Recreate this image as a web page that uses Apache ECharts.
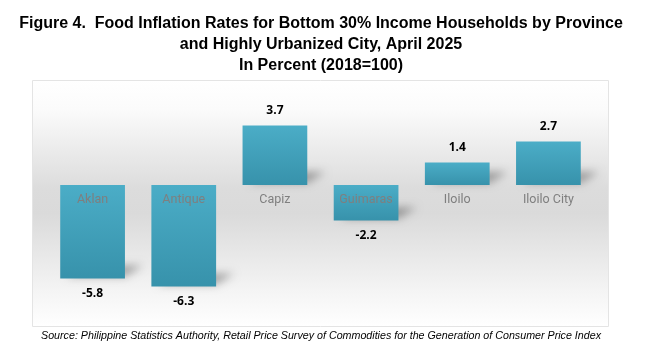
<!DOCTYPE html>
<html>
<head>
<meta charset="utf-8">
<script src="https://cdn.jsdelivr.net/npm/echarts@6/dist/echarts.min.js"></script>
<style>
html, body { margin: 0; padding: 0; background: #fff; }
#chart { width: 664px; height: 353px; }
</style>
</head>
<body>
<div id="chart"></div>
<script>
	var categories = ['Aklan', 'Antique', 'Capiz', 'Guimaras', 'Iloilo', 'Iloilo City'];
	var rates = [-5.8, -6.3, 3.7, -2.2, 1.4, 2.7];

	var titleLines = [
		'Figure 4.  Food Inflation Rates for Bottom 30% Income Households by Province',
		'and Highly Urbanized City, April 2025',
		'In Percent (2018=100)'
	];
	var sourceText = 'Source: Philippine Statistics Authority, Retail Price Survey of Commodities for the Generation of Consumer Price Index';

	var titleFont = '"Liberation Sans", Arial, sans-serif';

	// value range of the hidden y axis, zero sits at 6/14 of the grid height
	var yMin = -8, yMax = 6;
	var gridTop = 88.4, gridBottom = 39.2, chartH = 353;
	var gridH = chartH - gridTop - gridBottom;
	var zeroOffset = -gridH * (-yMin) / (yMax - yMin);
	var barRatio = 0.71;

	// perspective shadow behind each bar, cast up and to the right.
	// the shape itself is drawn off canvas, only its blurred shadow shows
	var far = 2000;
	function renderShadow(params, api) {
		var idx = api.value(0);
		var v = api.value(1);
		var base = api.coord([idx, Math.min(v, 0)]);
		var w = api.size([1, 0])[0] * barRatio;
		var xl = base[0] - w / 2 - far, xr = base[0] + w / 2 - far, yb = base[1];
		return {
			type: 'polygon',
			shape: { points: [[xl + 6, yb - 2], [xr, yb - 2], [xr + 18, yb - 13], [xl + 24, yb - 13]] },
			style: {
				fill: '#000',
				shadowBlur: 9,
				shadowOffsetX: far,
				shadowColor: 'rgba(0,0,0,0.32)'
			}
		};
	}

	var option = {
		animation: false,
		graphic: [
			{
				type: 'rect',
				z: -10,
				shape: { x: 32.5, y: 80.5, width: 576, height: 246 },
				style: {
					stroke: '#e4e4e4',
					lineWidth: 1,
					fill: {
						type: 'linear', x: 0, y: 0, x2: 0, y2: 1,
						colorStops: [
							{ offset: 0, color: '#ffffff' },
							{ offset: 0.12, color: '#fbfbfb' },
							{ offset: 0.44, color: '#dcdcdc' },
							{ offset: 0.54, color: '#dadada' },
							{ offset: 0.85, color: '#f4f4f4' },
							{ offset: 1, color: '#ffffff' }
						]
					}
				}
			},
			{
				type: 'text', x: 321, y: 13,
				style: {
					text: titleLines.join('\n'),
					font: 'bold 16px ' + titleFont,
					lineHeight: 21,
					textAlign: 'center',
					fill: '#000'
				}
			},
			{
				type: 'text', x: 321, y: 331,
				style: {
					text: sourceText,
					font: 'italic 10.7px ' + titleFont,
					textAlign: 'center',
					fill: '#000'
				}
			}
		],
		grid: {
			left: 47,
			right: 70,
			top: gridTop,
			bottom: gridBottom
		},
		xAxis: {
			type: 'category',
			data: categories,
			z: 10,
			offset: zeroOffset,
			axisLine: { show: false, onZero: false },
			axisTick: { show: false },
			axisLabel: {
				margin: 8,
				fontSize: 12.5,
				fontFamily: 'Roboto, sans-serif',
				color: '#7f7f7f'
			}
		},
		yAxis: {
			type: 'value',
			min: yMin,
			max: yMax,
			show: false
		},
		series: [
			{
				type: 'custom',
				z: 1,
				silent: true,
				clip: false,
				renderItem: renderShadow,
				data: rates.map(function(v, i) { return [i, v]; })
			},
			{
				type: 'bar',
				z: 2,
				data: rates,
				barWidth: (barRatio * 100) + '%',
				itemStyle: {
					color: {
						type: 'linear', x: 0, y: 0, x2: 0, y2: 1,
						colorStops: [
							{ offset: 0, color: '#4badc7' },
							{ offset: 1, color: '#3792ab' }
						]
					}
				},
				label: {
					show: true,
					position: 'outside',
					distance: 9,
					formatter: function(p) { return p.value.toFixed(1); },
					fontFamily: '"Open Sans", sans-serif',
					fontWeight: 'bold',
					fontSize: 12,
					color: '#000'
				}
			}
		]
	};

	var chart = echarts.init(document.getElementById('chart'));
	chart.setOption(option);
</script>
</body>
</html>
